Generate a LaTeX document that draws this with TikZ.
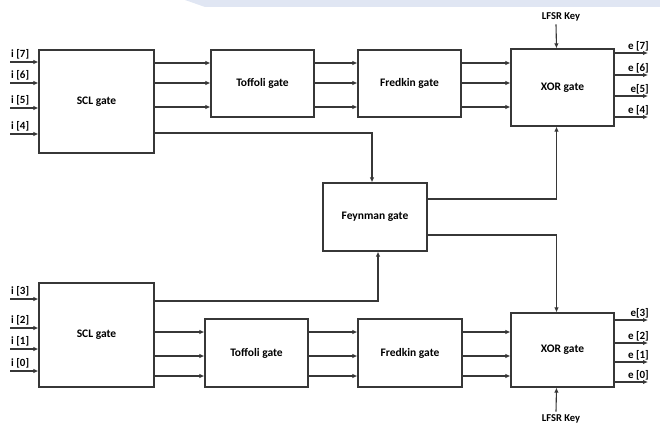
\documentclass[tikz,border=0pt]{standalone}
\usepackage{xcolor}
\usepackage{fontspec}
\setmainfont{Carlito}
\usetikzlibrary{arrows.meta}

\definecolor{wiregray}{RGB}{55,55,55}
\definecolor{bandblue}{RGB}{224,230,243}

\tikzset{
  gate/.style={draw=wiregray, line width=1.2pt, fill=white, inner sep=0pt,
    font=\bfseries\fontsize{11.5}{13}\selectfont},
  wire/.style={draw=wiregray, line width=1.1pt},
  sig/.style={wire, -{Latex[length=5pt,width=4.5pt]}},
  pin/.style={font=\bfseries\fontsize{11}{12}\selectfont, inner sep=0pt},
  keylbl/.style={font=\bfseries\fontsize{10.5}{12}\selectfont, inner sep=0pt}
}

\begin{document}
\begin{tikzpicture}[x=1pt,y=-1pt]
    \useasboundingbox (0,0) rectangle (660,425);
    \fill[bandblue] (185,0) -- (660,0) -- (660,7) -- (205,7) -- cycle;

    % upper half
    \node[gate, minimum width=115pt, minimum height=103pt] (sclA) at (96.5,101.5) {SCL gate};
    \node[gate, minimum width=103pt, minimum height=67pt] (toffA) at (262.5,83.5) {Toffoli gate};
    \node[gate, minimum width=103pt, minimum height=67pt] (fredA) at (409.5,83.5) {Fredkin gate};
    \node[gate, minimum width=103pt, minimum height=77pt] (xorA) at (562.5,87.5) {XOR gate};

    % middle
    \node[gate, minimum width=104pt, minimum height=68pt] (feyn) at (375,217) {Feynman gate};

    % lower half
    \node[gate, minimum width=115pt, minimum height=104pt] (sclB) at (96.5,335) {SCL gate};
    \node[gate, minimum width=103pt, minimum height=68pt] (toffB) at (256.5,353) {Toffoli gate};
    \node[gate, minimum width=104pt, minimum height=68pt] (fredB) at (410,353) {Fredkin gate};
    \node[gate, minimum width=103pt, minimum height=74pt] (xorB) at (562.5,350) {XOR gate};

    \node[keylbl] (keyA) at (561,17) {LFSR Key};
    \node[keylbl] (keyB) at (561,419) {LFSR Key};

    % inputs
    \foreach \y/\txt in {62/{i [7]}, 83/{i [6]}, 108/{i [5]}, 134/{i [4]}}{
        \coordinate (in\y) at (10,\y);
        \draw[sig] (in\y) -- (sclA.west |- in\y);
        \node[pin, anchor=south west] (inlbl\y) at (11,\y-3) {\txt};
    }
    \foreach \y/\txt in {299/{i [3]}, 328/{i [2]}, 349/{i [1]}, 371/{i [0]}}{
        \coordinate (in\y) at (10,\y);
        \draw[sig] (in\y) -- (sclB.west |- in\y);
        \node[pin, anchor=south west] (inlbl\y) at (11,\y-3) {\txt};
    }

    % chains
    \foreach \y in {63,83,107}{
        \draw[sig] (sclA.east |- 0,\y) -- (toffA.west |- 0,\y);
        \draw[sig] (toffA.east |- 0,\y) -- (fredA.west |- 0,\y);
        \draw[sig] (fredA.east |- 0,\y) -- (xorA.west |- 0,\y);
    }
    \foreach \y in {332,356,376}{
        \draw[sig] (sclB.east |- 0,\y) -- (toffB.west |- 0,\y);
        \draw[sig] (toffB.east |- 0,\y) -- (fredB.west |- 0,\y);
        \draw[sig] (fredB.east |- 0,\y) -- (xorB.west |- 0,\y);
    }

    % feynman links
    \draw[sig] (sclA.east |- 0,133) -| ([xshift=-3pt]feyn.north);
    \draw[sig] (sclB.east |- 0,301) -| ([xshift=3pt]feyn.south);
    \draw[sig] (feyn.east |- 0,199) -| ([xshift=-6pt]xorA.south);
    \draw[sig] (feyn.east |- 0,235) -| ([xshift=-6pt]xorB.north);

    % keys
    \draw[sig] ([xshift=-5pt,yshift=-3pt]keyA.south) -- ([xshift=-6pt]xorA.north);
    \draw[sig] ([xshift=-5pt,yshift=3pt]keyB.north) -- ([xshift=-6pt]xorB.south);

    % outputs
    \foreach \y/\txt in {53/{e [7]}, 75/{e [6]}, 96/{e[5]}, 117/{e [4]}}{
        \coordinate (out\y) at (648,\y);
        \draw[sig] (xorA.east |- out\y) -- (out\y);
        \node[pin, anchor=south east] (outlbl\y) at (649,\y-2) {\txt};
    }
    \foreach \y/\txt in {320/{e[3]}, 343/{e [2]}, 362/{e [1]}, 382/{e [0]}}{
        \coordinate (out\y) at (648,\y);
        \draw[sig] (xorB.east |- out\y) -- (out\y);
        \node[pin, anchor=south east] (outlbl\y) at (649,\y-2) {\txt};
    }
\end{tikzpicture}
\end{document}
